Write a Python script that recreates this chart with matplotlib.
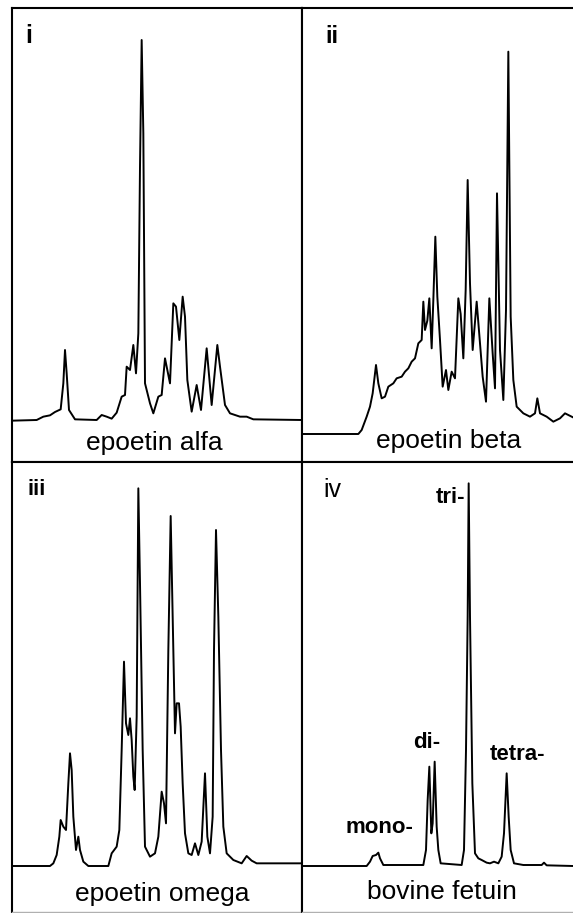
#!/usr/bin/env python3

import numpy as np
import matplotlib.pyplot as plt

plt.rcParams['font.family'] = ['Liberation Sans', 'DejaVu Sans']

# elution position (a.u.) and detector signal (a.u.)
alfa_x = [0, 74, 94, 114, 129, 146, 154, 159, 164, 171, 189, 254, 269, 284, 299,
          314, 329, 339, 344, 354, 364, 372, 379, 384, 389, 394, 399, 414, 424,
          439, 449, 459, 474, 484, 492, 502, 512, 519, 526, 539, 554, 567, 584,
          599, 616, 624, 639, 654, 684, 704, 724, 870]
alfa_y = [0, 2, 12, 16, 26, 34, 112, 212, 142, 32, 4, 2, 17, 12, 6,
          24, 72, 77, 162, 152, 227, 142, 262, 762, 1142, 862, 112, 52, 22,
          72, 77, 187, 112, 352, 342, 242, 372, 312, 122, 27, 107, 32, 217,
          47, 227, 162, 47, 22, 12, 12, 4, 2]

beta_x = [0, 169, 179, 194, 204, 212, 222, 229, 239, 249, 259, 274, 284, 299,
          309, 319, 329, 339, 349, 359, 364, 369, 376, 382, 389, 394, 400, 406,
          414, 422, 432, 439, 449, 459, 469, 476, 484, 491, 497, 504, 512, 524,
          534, 542, 552, 562, 572, 579, 585, 594, 604, 612, 619, 626, 634, 644,
          664, 684, 699, 706, 714, 734, 754, 774, 789, 809, 813]
beta_y = [0, 0, 12, 52, 82, 122, 207, 152, 107, 112, 142, 152, 167, 172,
          187, 197, 217, 227, 272, 282, 397, 312, 340, 407, 257, 402, 592, 412,
          282, 142, 192, 132, 187, 167, 407, 360, 227, 432, 762, 452, 252, 397,
          272, 172, 97, 407, 242, 137, 722, 252, 102, 372, 1147, 352, 162, 82,
          62, 52, 62, 107, 62, 52, 37, 47, 62, 52, 50]

omega_x = [0, 114, 124, 134, 142, 146, 154, 162, 169, 174, 179, 184, 192, 199,
           204, 214, 229, 289, 299, 314, 322, 329, 336, 342, 349, 354, 359, 364,
           368, 374, 379, 384, 392, 399, 414, 429, 439, 449, 456, 462, 469, 476,
           484, 489, 494, 501, 506, 512, 519, 529, 539, 549, 559, 569, 579, 586,
           594, 602, 606, 612, 619, 627, 634, 644, 664, 689, 704, 719, 734, 870]
omega_y = [0, 0, 8, 33, 88, 138, 118, 108, 248, 338, 288, 148, 48, 88,
           48, 13, 0, 0, 38, 58, 108, 348, 613, 428, 393, 443, 378, 268,
           228, 448, 1133, 848, 348, 58, 28, 38, 88, 223, 188, 128, 648, 1050,
           648, 398, 488, 488, 418, 248, 98, 38, 33, 68, 33, 73, 278, 88,
           38, 148, 648, 1008, 748, 348, 118, 38, 18, 8, 30, 16, 8, 8]

fetuin_x = [0, 194, 204, 212, 222, 229, 234, 244, 364, 372, 377, 382, 388, 392,
            398, 404, 409, 416, 479, 486, 492, 497, 500, 504, 511, 519, 529, 539,
            554, 564, 576, 589, 599, 606, 614, 620, 626, 636, 664, 719, 726, 734,
            813]
fetuin_y = [0, 0, 13, 30, 33, 40, 23, 3, 3, 48, 198, 298, 98, 128,
            313, 118, 48, 8, 3, 48, 348, 748, 1148, 748, 248, 38, 23, 18,
            10, 8, 13, 8, 28, 98, 278, 148, 48, 8, 3, 3, 10, 2,
            0]

numerals = ['i', 'ii', 'iii', 'iv']
names = ['epoetin alfa', 'epoetin beta', 'epoetin omega', 'bovine fetuin']
fetuin_labels = ['mono-', 'di-', 'tri-', 'tetra-']
fetuin_label_pos = [(334, 98, 'right'), (334, 353, 'left'),
                    (489, 1089, 'right'), (564, 318, 'left')]


def main():
    W, H = 573, 913
    fig = plt.figure(figsize=(W / 100, H / 100), dpi=100)

    # panel boxes in pixels: left, top, right, bottom
    boxes = [(12, 8, 302, 462), (302, 8, 573, 462),
             (12, 462, 302, 912), (302, 462, 573, 912)]
    xmax = [870, 813, 870, 813]
    ylims = [(-124, 1238), (-84, 1278), (-138, 1212), (-138, 1212)]
    traces = [(alfa_x, alfa_y), (beta_x, beta_y),
              (omega_x, omega_y), (fetuin_x, fetuin_y)]
    num_pos = [(0.045, 0.923), (0.085, 0.923), (0.052, 0.927), (0.080, 0.922)]
    num_size = [18, 17, 16, 18]
    num_bold = ['bold', 'bold', 'bold', 'normal']
    name_pos = [(0.49, 0.026), (0.54, 0.031), (0.517, 0.024), (0.517, 0.029)]

    axes = []
    for k, (l, t, r, b) in enumerate(boxes):
        ax = fig.add_axes([l / W, (H - b) / H, (r - l) / W, (b - t) / H])
        x, y = traces[k]
        ax.plot(x, y, color='black', lw=1.4)
        ax.set_xlim(0, xmax[k])
        ax.set_ylim(*ylims[k])
        ax.set_xticks([])
        ax.set_yticks([])
        for s in ax.spines.values():
            s.set_linewidth(1.5)
            s.set_color('black')
        if r == W:
            ax.spines['right'].set_visible(False)
        if b == 912:
            ax.spines['bottom'].set_color('#b0b0b0')
            ax.spines['bottom'].set_linewidth(1.0)
        ax.text(*num_pos[k], numerals[k], transform=ax.transAxes,
                fontsize=num_size[k], fontweight=num_bold[k],
                ha='left', va='baseline')
        ax.text(*name_pos[k], names[k], transform=ax.transAxes,
                fontsize=19, ha='center', va='baseline')
        axes.append(ax)

    for lab, (px, py, ha) in zip(fetuin_labels, fetuin_label_pos):
        axes[3].text(px, py, lab, fontsize=16, fontweight='bold',
                     ha=ha, va='baseline')

    fig.savefig('out.png', dpi=100)


if __name__ == "__main__":
    main()
